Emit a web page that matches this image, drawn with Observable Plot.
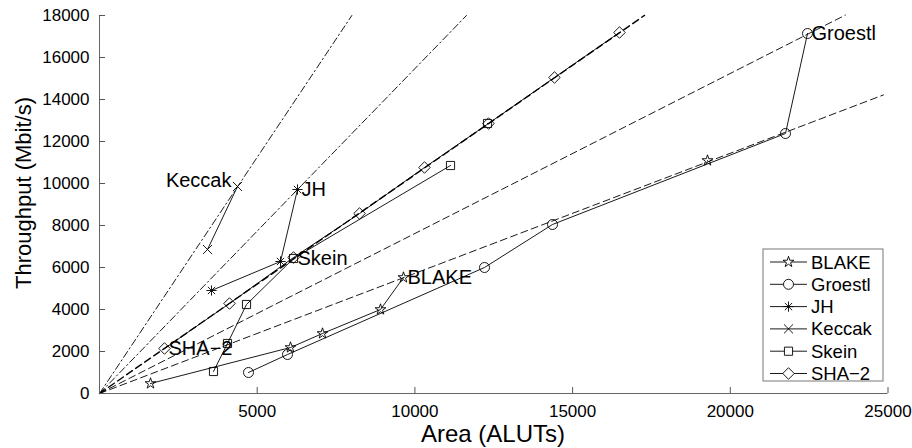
<!DOCTYPE html>
<html><head><meta charset="utf-8">
<script src="https://cdn.jsdelivr.net/npm/d3@7"></script>
<script src="https://cdn.jsdelivr.net/npm/@observablehq/plot@0.6"></script>
<style>
body{margin:0;background:#fff}
svg{font-family:"Liberation Sans",Arial,Helvetica,sans-serif}
</style>
</head><body><div id="chart"></div>
<script>
// ---- data ----
const seriesNames = ["BLAKE", "Groestl", "JH", "Keccak", "Skein", "SHA\u22122"];
const blakeArea   = [1617, 6056, 7070, 8909, 9638, NaN, 19277];
const blakeTput   = [476, 2190, 2857, 4000, 5524, NaN, 11095];
const groestlArea = [4724, 5961, 12207, 14363, 21750, 22448];
const groestlTput = [1000, 1857, 6000, 8048, 12381, 17143];
const jhArea      = [3551, 5739, 6278];
const jhTput      = [4905, 6286, 9714];
const keccakArea  = [3424, 4375];
const keccakTput  = [6857, 9857];
const skeinArea   = [3614, 4058, 4661, 6151, 11129, NaN, 12302];
const skeinTput   = [1048, 2381, 4238, 6429, 10857, NaN, 12857];
const sha2Area    = [2061, 4122, 6151, 8244, 10304, 12334, 14426, 16487];
const sha2Tput    = [2143, 4286, 6476, 8571, 10762, 12857, 15048, 17190];

// reference lines through the origin (throughput/area ratio) and their end area
const refSlope   = [2.25, 1.547, 1.042, 0.762, 0.572];
const refEndArea = [8000, 11636, 17280, 23650, 24857];

// in-plot labels
const labelNames = ["Keccak", "JH", "Skein", "BLAKE", "Groestl", "SHA\u22122"];
const labelArea  = [4375, 6278, 6151, 9638, 22448, 2061];
const labelTput  = [9857, 9714, 6429, 5524, 17143, 2143];

const xTicks = [5000, 10000, 15000, 20000, 25000];
const yTicks = [0, 2000, 4000, 6000, 8000, 10000, 12000, 14000, 16000, 18000];
const xTitle = "Area (ALUTs)";
const yTitle = "Throughput (Mbit/s)";

// ---- build tables ----
const areas = [blakeArea, groestlArea, jhArea, keccakArea, skeinArea, sha2Area];
const tputs = [blakeTput, groestlTput, jhTput, keccakTput, skeinTput, sha2Tput];
const rows = [];
seriesNames.forEach((s, i) => areas[i].forEach((a, j) => rows.push({series: s, area: a, tput: tputs[i][j]})));
const refRows = [];
refSlope.forEach((k, i) => {
  refRows.push({line: i, area: 0, tput: 0});
  refRows.push({line: i, area: refEndArea[i], tput: k * refEndArea[i]});
});
const labels = labelNames.map((n, i) => ({name: n, area: labelArea[i], tput: labelTput[i]}));

// ---- layout ----
const W = 912, H = 448, mL = 99, mR = 24.5, mT = 15, mB = 55;
const xMax = 25000, yMax = 18000;
const innerW = W - mL - mR, innerH = H - mT - mB;
const tickLen = 6;

// marker = list of overlaid symbols [symbol, r]
const markerDef = {
  "BLAKE":   [["star", 3.4]],
  "Groestl": [["circle", 5]],
  "JH":      [["plus", 3.4], ["times", 3.4]],
  "Keccak":  [["times", 4.2]],
  "Skein":   [["square", 4.6]],
  "SHA\u22122": [["diamond2", 5.2]]
};

const lw = 0.9;
const marks = [
  Plot.line(refRows.filter(d => d.line < 2), {x: "area", y: "tput", z: "line", stroke: "black", strokeWidth: lw, strokeDasharray: "7,3,1.5,3"}),
  Plot.line(refRows.filter(d => d.line >= 3), {x: "area", y: "tput", z: "line", stroke: "black", strokeWidth: lw, strokeDasharray: "7,4"}),
  Plot.line(rows, {x: "area", y: "tput", z: "series", stroke: "black", strokeWidth: lw}),
  // dashed ratio line lying on the SHA-2 curve (looks heavier in the reference)
  Plot.line(refRows.filter(d => d.line === 2), {x: "area", y: "tput", z: "line", stroke: "black", strokeWidth: 1.4, strokeDasharray: "7,4"}),
];
seriesNames.forEach(s => {
  markerDef[s].forEach(([sym, r]) => {
    marks.push(Plot.dot(rows.filter(d => d.series === s), {x: "area", y: "tput", symbol: () => sym, r, stroke: "black", fill: "none", strokeWidth: lw}));
  });
});
marks.push(
  Plot.text(labels.filter(d => d.name === "Keccak"), {x: "area", y: "tput", text: "name", textAnchor: "end", dx: -6, dy: -6, fontSize: 20, fill: "black"}),
  Plot.text(labels.filter(d => d.name !== "Keccak"), {x: "area", y: "tput", text: "name", textAnchor: "start", dx: 4, dy: 0, fontSize: 20, fill: "black"}),
  Plot.ruleX([0], {stroke: "#666", strokeWidth: 1}),
  Plot.ruleY([0], {stroke: "#666", strokeWidth: 1}),
  Plot.ruleX(xTicks, {x: d => d, y1: 0, y2: yMax * tickLen / innerH, stroke: "#555", strokeWidth: 1}),
  Plot.ruleY(yTicks, {y: d => d, x1: 0, x2: xMax * tickLen / innerW, stroke: "#555", strokeWidth: 1}),
  Plot.axisX(xTicks, {tickSize: 0, tickPadding: 11, fontSize: 17, tickFormat: d3.format("d"), label: null}),
  Plot.axisY(yTicks, {tickSize: 0, tickPadding: 10, fontSize: 17, tickFormat: d3.format("d"), label: null})
);

const chart = Plot.plot({
  width: W, height: H,
  marginLeft: mL, marginRight: mR, marginTop: mT, marginBottom: mB,
  x: {domain: [0, xMax]},
  y: {domain: [0, yMax]},
  style: {fontFamily: '"Liberation Sans", Arial, sans-serif', color: "black", background: "white", overflow: "visible"},
  marks
});
document.getElementById("chart").appendChild(chart);

// ---- titles and legend ----
const svg = d3.select(chart);
svg.append("text").attr("x", 493).attr("y", 433).attr("text-anchor", "middle").attr("dominant-baseline", "central")
  .attr("font-size", 24).attr("fill", "black").text(xTitle);
svg.append("text").attr("transform", "translate(23,193) rotate(-90)").attr("text-anchor", "middle").attr("dominant-baseline", "central")
  .attr("font-size", 22).attr("fill", "black").text(yTitle);

const d3Sym = {star: d3.symbolStar, circle: d3.symbolCircle, plus: d3.symbolPlus, times: d3.symbolTimes, square: d3.symbolSquare, diamond2: d3.symbolDiamond2};
const lg = svg.append("g");
lg.append("rect").attr("x", 763).attr("y", 249).attr("width", 120).attr("height", 132)
  .attr("fill", "white").attr("stroke", "#777").attr("stroke-width", 1);
seriesNames.forEach((s, i) => {
  const y = 262 + i * 22.3;
  lg.append("line").attr("x1", 770).attr("x2", 807).attr("y1", y).attr("y2", y).attr("stroke", "black").attr("stroke-width", lw);
  markerDef[s].forEach(([sym, r]) => {
    lg.append("path").attr("transform", `translate(788.5,${y})`)
      .attr("d", d3.symbol(d3Sym[sym], Math.PI * r * r)())
      .attr("fill", "white").attr("fill-opacity", sym === "plus" || sym === "times" ? 0 : 1)
      .attr("stroke", "black").attr("stroke-width", lw);
  });
  lg.append("text").attr("x", 811).attr("y", y).attr("text-anchor", "start").attr("dominant-baseline", "central")
    .attr("font-size", 18.5).attr("fill", "black").text(s);
});
</script>
</body></html>
